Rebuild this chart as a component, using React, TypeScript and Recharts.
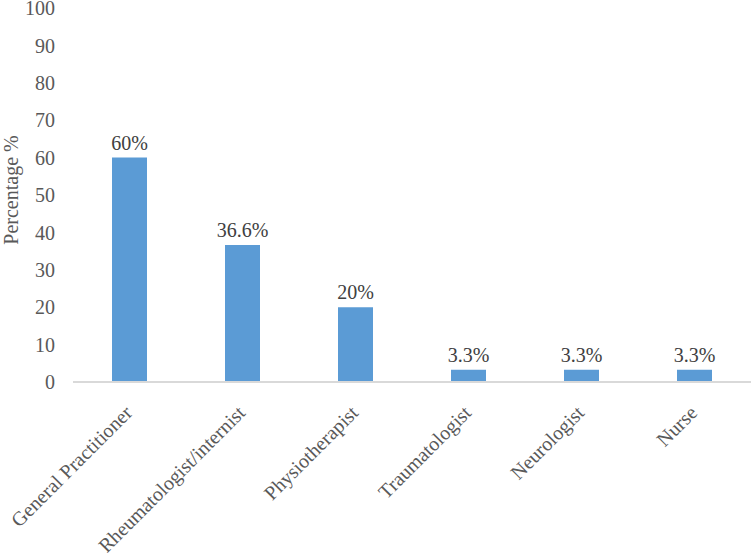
import { BarChart, Bar, XAxis, YAxis, LabelList } from "recharts";

const categories = [
  "General Practitioner",
  "Rheumatologist/internist",
  "Physiotherapist",
  "Traumatologist",
  "Neurologist",
  "Nurse",
];
const percentages = [60, 36.6, 20, 3.3, 3.3, 3.3];
const yTicks = [0, 10, 20, 30, 40, 50, 60, 70, 80, 90, 100];

const data = categories.map((name, i) => ({ name, value: percentages[i] }));

const FONT = "Liberation Serif, Times New Roman, serif";

const CategoryTick = ({ x, y, payload }: any) => (
  <text
    x={x + 4}
    y={y + 24}
    transform={`rotate(-45, ${x + 4}, ${y + 24})`}
    textAnchor="end"
    fill="#595959"
    fontSize={20}
    fontFamily={FONT}
  >
    {payload.value}
  </text>
);

const YLabel = () => (
  <text
    x={18}
    y={190}
    transform="rotate(-90, 18, 190)"
    textAnchor="middle"
    fill="#595959"
    fontSize={20}
    fontFamily={FONT}
  >
    Percentage %
  </text>
);

const App = () => (
  <div style={{ position: "absolute", left: 0, top: 0, width: 752, height: 553, background: "#fff", fontFamily: FONT }}>
    <BarChart
      width={752}
      height={553}
      data={data}
      margin={{ top: 8, right: 1, left: 0, bottom: 0 }}
      barCategoryGap={0}
    >
      <XAxis
        dataKey="name"
        interval={0}
        height={171}
        tickLine={false}
        axisLine={{ stroke: "#D9D9D9", strokeWidth: 2 }}
        tick={<CategoryTick />}
      />
      <YAxis
        width={73}
        domain={[0, 100]}
        ticks={yTicks}
        interval={0}
        axisLine={false}
        tickLine={false}
        tickMargin={12}
        tick={{ fill: "#595959", fontSize: 20, fontFamily: FONT }}
        label={<YLabel />}
      />
      <Bar dataKey="value" fill="#5B9BD5" barSize={35} isAnimationActive={false}>
        <LabelList
          dataKey="value"
          position="top"
          offset={8}
          formatter={(v: any) => `${v}%`}
          style={{ fill: "#404040", fontSize: 20, fontFamily: FONT }}
        />
      </Bar>
    </BarChart>
  </div>
);

export default App;
